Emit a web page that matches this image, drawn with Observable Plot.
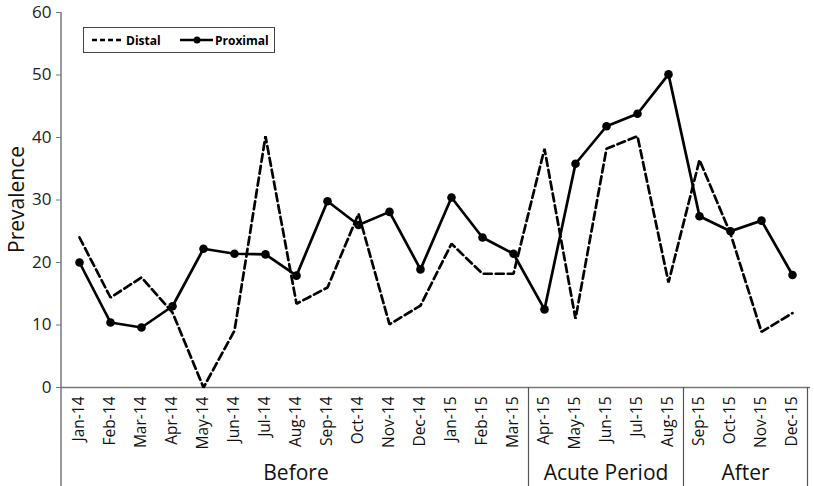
<!DOCTYPE html>
<html>
<head>
<meta charset="utf-8">
<script src="https://cdn.jsdelivr.net/npm/d3@7"></script>
<script src="https://cdn.jsdelivr.net/npm/@observablehq/plot@0.6"></script>
<style>
  html, body { margin: 0; padding: 0; background: #fff; }
  svg { font-family: "Open Sans", "Noto Sans", sans-serif; }
</style>
</head>
<body>
<div id="chart"></div>
<script>
const months = ["Jan-14","Feb-14","Mar-14","Apr-14","May-14","Jun-14","Jul-14","Aug-14","Sep-14","Oct-14","Nov-14","Dec-14",
                "Jan-15","Feb-15","Mar-15","Apr-15","May-15","Jun-15","Jul-15","Aug-15","Sep-15","Oct-15","Nov-15","Dec-15"];
const distal   = [24.0,14.4,17.6,12.0,0.0,9.1,40.2,13.4,16.0,27.8,10.1,13.1,23.0,18.2,18.2,38.2,11.0,38.2,40.2,16.8,36.4,24.6,8.9,11.9];
const proximal = [20.0,10.4,9.6,13.0,22.2,21.4,21.3,17.9,29.8,26.0,28.1,18.9,30.4,24.0,21.4,12.5,35.8,41.8,43.8,50.1,27.4,25.0,26.7,18.0];
const yTicks = [0,10,20,30,40,50,60];
const periods = [
  {name: "Before", first: "Jan-14", last: "Mar-15"},
  {name: "Acute Period", first: "Apr-15", last: "Aug-15"},
  {name: "After", first: "Sep-15", last: "Dec-15"}
];
const seriesNames = ["Distal", "Proximal"];

const distalData = months.map((m, i) => ({month: m, value: distal[i]}));
const proxData = months.map((m, i) => ({month: m, value: proximal[i]}));

const chart = Plot.plot({
  width: 814,
  height: 486,
  marginLeft: 61,
  marginRight: 4,
  marginTop: 12,
  marginBottom: 99,
  style: {fontFamily: '"Open Sans", "Noto Sans", sans-serif', background: "#fff"},
  x: {type: "point", domain: months, padding: 0.5},
  y: {domain: [0, 60]},
  marks: [
    Plot.axisY({ticks: yTicks, tickSize: 5, tickPadding: 5, fontSize: 17, stroke: "#777", color: "#222",
      label: null}),
    Plot.axisX({tickSize: 0, tickPadding: 9, tickRotate: -90, fontSize: 15.5, color: "#111", label: null}),
    Plot.ruleY([0], {stroke: "#777", strokeWidth: 1.5}),
    Plot.line(distalData, {x: "month", y: "value", stroke: "#000", strokeWidth: 2.7, strokeDasharray: "8,4", strokeLinejoin: "miter"}),
    Plot.line(proxData, {x: "month", y: "value", stroke: "#000", strokeWidth: 2.7}),
    Plot.dot(proxData, {x: "month", y: "value", r: 4.3, fill: "#000"})
  ]
});
document.getElementById("chart").appendChild(chart);

// Post-process using the plot's own scales
const svg = d3.select(chart);
const xs = chart.scale("x");
const ys = chart.scale("y");
const step = xs.step;
const left = xs.range[0];
const y0 = ys.apply(0), yTop = ys.apply(60);
const bottom = 486;

// left axis line, extended down through label area
svg.append("line").attr("x1", left).attr("x2", left).attr("y1", yTop).attr("y2", bottom)
  .attr("stroke", "#777").attr("stroke-width", 1.5);

periods.forEach((p) => {
  const a = xs.apply(p.first) - step / 2;
  const b = xs.apply(p.last) + step / 2;
  svg.append("line").attr("x1", b).attr("x2", b).attr("y1", y0).attr("y2", bottom)
    .attr("stroke", "#555").attr("stroke-width", 1.2);
  svg.append("text").attr("x", (a + b) / 2).attr("y", 480)
    .attr("text-anchor", "middle").attr("font-size", 21).attr("fill", "#111")
    .text(p.name);
});

// y axis title
svg.append("text")
  .attr("transform", `translate(24,${(y0 + yTop) / 2}) rotate(-90)`)
  .attr("text-anchor", "middle").attr("font-size", 21).attr("fill", "#111")
  .text("Prevalence");

// legend
const lg = svg.append("g").attr("text-anchor", "start");
lg.append("rect").attr("x", 83.5).attr("y", 27.5).attr("width", 191).attr("height", 25)
  .attr("fill", "#fff").attr("stroke", "#444").attr("stroke-width", 1);
lg.append("line").attr("x1", 92).attr("x2", 124).attr("y1", 40).attr("y2", 40)
  .attr("stroke", "#000").attr("stroke-width", 2.5).attr("stroke-dasharray", "5,3");
lg.append("text").attr("x", 126).attr("y", 44.5).attr("font-size", 12).attr("font-weight", "bold")
  .attr("text-anchor", "start").attr("fill", "#000").text(seriesNames[0]);
lg.append("line").attr("x1", 180).attr("x2", 213).attr("y1", 40).attr("y2", 40)
  .attr("stroke", "#000").attr("stroke-width", 2.5);
lg.append("circle").attr("cx", 197).attr("cy", 40).attr("r", 3.5).attr("fill", "#000");
lg.append("text").attr("x", 215).attr("y", 44.5).attr("font-size", 12).attr("font-weight", "bold")
  .attr("text-anchor", "start").attr("fill", "#000").text(seriesNames[1]);
</script>
</body>
</html>
